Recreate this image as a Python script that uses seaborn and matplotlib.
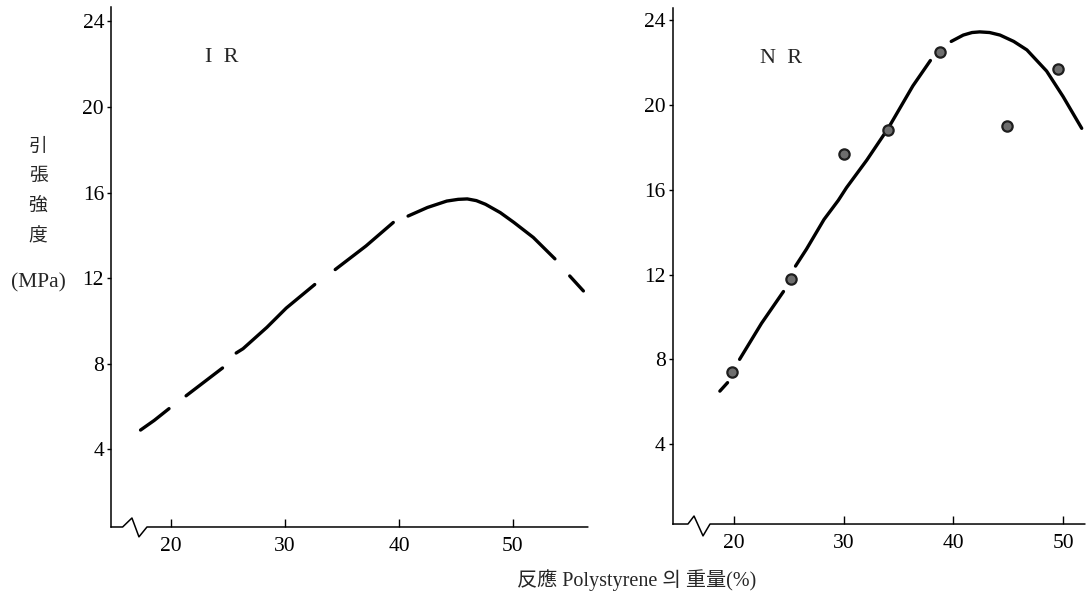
import matplotlib
matplotlib.use("Agg")
import matplotlib.pyplot as plt
import pandas as pd
import seaborn as sns

# IR: tensile strength vs. reacted polystyrene content (curve drawn in broken strokes)
ir_x = [17.3, 18.5, 19.8,
        21.3, 22.9, 24.5,
        25.7, 26.3, 28.4, 30.1, 32.6,
        34.4, 37.1, 39.5,
        40.8, 42.5, 44.2, 45.2, 46.0, 46.8, 47.6, 48.9, 50.1, 51.8, 53.7,
        55.0, 56.2]
ir_y = [4.9, 5.35, 5.9,
        6.5, 7.15, 7.8,
        8.5, 8.7, 9.7, 10.6, 11.7,
        12.4, 13.5, 14.6,
        14.9, 15.3, 15.6, 15.68, 15.7, 15.62, 15.45, 15.06, 14.6, 13.9, 12.9,
        12.1, 11.4]
ir_seg = [0, 0, 0,
          1, 1, 1,
          2, 2, 2, 2, 2,
          3, 3, 3,
          4, 4, 4, 4, 4, 4, 4, 4, 4, 4, 4,
          5, 5]

# NR: fitted curve (broken strokes) and measured points
nr_x = [18.7, 19.4,
        20.5, 22.5, 24.5,
        25.6, 26.6, 28.2, 29.5, 30.25, 32.1, 34.05, 36.3, 37.9,
        39.8, 40.9, 41.7, 42.4, 43.3, 44.25, 45.5, 46.7, 48.5, 50.0, 51.7]
nr_y = [6.5, 6.9,
        8.0, 9.7, 11.2,
        12.4, 13.2, 14.6, 15.5, 16.1, 17.4, 18.9, 20.9, 22.1,
        23.0, 23.3, 23.42, 23.45, 23.42, 23.3, 23.0, 22.6, 21.6, 20.4, 18.9]
nr_seg = [0, 0,
          1, 1, 1,
          2, 2, 2, 2, 2, 2, 2, 2, 2,
          3, 3, 3, 3, 3, 3, 3, 3, 3, 3, 3]

nr_pt_x = [19.8, 25.2, 30.0, 34.0, 38.8, 44.9, 49.5]
nr_pt_y = [7.4, 11.8, 17.7, 18.8, 22.5, 19.0, 21.7]

x_ticks = [20, 30, 40, 50]
y_ticks = [4, 8, 12, 16, 20, 24]

ir_df = pd.DataFrame({"x": ir_x, "y": ir_y, "seg": ir_seg})
nr_df = pd.DataFrame({"x": nr_x, "y": nr_y, "seg": nr_seg})
pt_df = pd.DataFrame({"x": nr_pt_x, "y": nr_pt_y})

sns.set_theme(style="ticks")
plt.rcParams["font.family"] = ["Liberation Serif", "Noto Sans CJK KR"]
plt.rcParams["axes.facecolor"] = "white"
plt.rcParams["figure.facecolor"] = "white"

fig = plt.figure(figsize=(10.91, 5.95), dpi=100)
ax_ir = fig.add_axes([0.1017, 0.1143, 0.4372, 0.874])
ax_nr = fig.add_axes([0.6166, 0.1193, 0.3779, 0.867])


def style_axis(ax, xlim, ylim, brk):
    ax.set_xlim(*xlim)
    ax.set_ylim(*ylim)
    ax.set_xticks(x_ticks)
    ax.set_yticks(y_ticks)
    ax.set_xlabel("")
    ax.set_ylabel("")
    for side in ("top", "right", "bottom"):
        ax.spines[side].set_visible(False)
    ax.spines["left"].set_color("black")
    ax.spines["left"].set_linewidth(1.1)
    ax.tick_params(axis="y", direction="out", length=3, width=1.0, pad=2,
                   labelsize=15.5, colors="black")
    ax.tick_params(axis="x", direction="in", length=6, width=1.0, pad=7,
                   labelsize=15.5, colors="black")
    # bottom axis with a break mark near the origin
    f1, f2, f3, f4, up, dn = brk
    ax.plot([0, f1, f2, f3, f4, 1], [0, 0, up, dn, 0, 0],
            transform=ax.transAxes, clip_on=False, color="black", lw=1.1)


sns.lineplot(data=ir_df, x="x", y="y", units="seg", estimator=None, sort=False,
             color="black", lw=2.4, ax=ax_ir, legend=False)
style_axis(ax_ir, (14.7, 56.6), (0.37, 24.67),
           (0.0245, 0.044, 0.0587, 0.0755, 0.0173, -0.019))
ax_ir.text(24.4, 22.3, "I  R", fontsize=16, ha="center", va="center")

sns.lineplot(data=nr_df, x="x", y="y", units="seg", estimator=None, sort=False,
             color="black", lw=2.4, ax=ax_nr, legend=False)
sns.scatterplot(data=pt_df, x="x", y="y", s=55, color="#6e6e6e",
                edgecolor="#1e1e1e", linewidth=1.6, ax=ax_nr, zorder=3)
style_axis(ax_nr, (14.4, 52.0), (0.23, 24.57),
           (0.037, 0.0517, 0.0735, 0.0905, 0.0155, -0.023))
ax_nr.text(24.3, 22.2, "N  R", fontsize=16, ha="center", va="center")

# y-axis caption, stacked vertically
fig.text(38 / 1091, 1 - 192 / 595, "引\n張\n強\n度", fontsize=13.5,
         ha="center", va="center", linespacing=1.95)
fig.text(38 / 1091, 1 - 283 / 595, "(MPa)", fontsize=15.5,
         ha="center", va="center")

# shared x-axis caption
fig.text(637 / 1091, 1 - 580 / 595, "反應 Polystyrene 의 重量(%)", fontsize=14.5,
         ha="center", va="center")

fig.savefig("out.png", dpi=100)
